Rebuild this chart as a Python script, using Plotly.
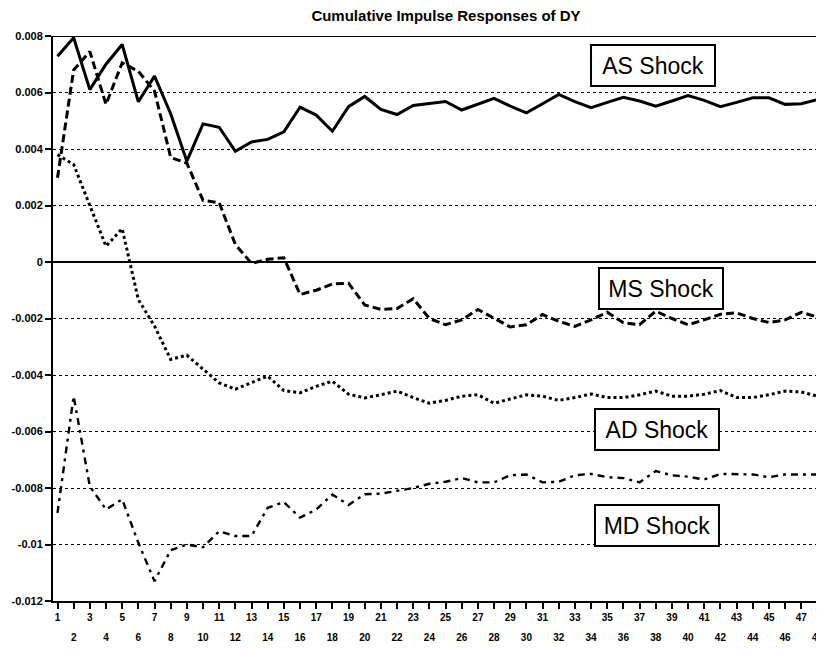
import plotly.graph_objects as go

periods = list(range(1, 49))

as_shock = [0.00728, 0.00794, 0.00610, 0.00700, 0.00770, 0.00567, 0.00658, 0.00525, 0.00357, 0.00489,
            0.00477, 0.00392, 0.00425, 0.00434, 0.00461, 0.00548, 0.00520, 0.00463, 0.00550, 0.00586,
            0.00540, 0.00522, 0.00554, 0.00562, 0.00568, 0.00538, 0.00558, 0.00579, 0.00552, 0.00528,
            0.00560, 0.00593, 0.00568, 0.00546, 0.00565, 0.00583, 0.00570, 0.00552, 0.00570, 0.00589,
            0.00572, 0.00550, 0.00565, 0.00581, 0.00581, 0.00558, 0.00560, 0.00575]

ms_shock = [0.00298, 0.00680, 0.00745, 0.00558, 0.00705, 0.00675, 0.00605, 0.00370, 0.00350, 0.00218,
            0.00210, 0.00062, -0.00005, 0.00010, 0.00015, -0.00115, -0.00100, -0.00078, -0.00075, -0.00152,
            -0.00168, -0.00165, -0.00130, -0.00200, -0.00222, -0.00205, -0.00168, -0.00200, -0.00230, -0.00222,
            -0.00186, -0.00210, -0.00228, -0.00205, -0.00178, -0.00215, -0.00222, -0.00174, -0.00200, -0.00222,
            -0.00205, -0.00185, -0.00180, -0.00200, -0.00214, -0.00205, -0.00178, -0.00195]

ad_shock = [0.00380, 0.00345, 0.00200, 0.00056, 0.00118, -0.00133, -0.00227, -0.00345, -0.00330, -0.00380,
            -0.00428, -0.00450, -0.00428, -0.00404, -0.00455, -0.00463, -0.00440, -0.00422, -0.00468, -0.00481,
            -0.00470, -0.00457, -0.00480, -0.00500, -0.00490, -0.00475, -0.00470, -0.00500, -0.00485, -0.00470,
            -0.00475, -0.00490, -0.00480, -0.00467, -0.00480, -0.00480, -0.00470, -0.00457, -0.00475, -0.00475,
            -0.00468, -0.00455, -0.00480, -0.00480, -0.00470, -0.00457, -0.00460, -0.00475]

md_shock = [-0.00888, -0.00475, -0.00794, -0.00876, -0.00840, -0.00994, -0.01130, -0.01020, -0.01000, -0.01010,
            -0.00953, -0.00970, -0.00970, -0.00870, -0.00850, -0.00905, -0.00876, -0.00823, -0.00860, -0.00822,
            -0.00820, -0.00810, -0.00800, -0.00785, -0.00778, -0.00765, -0.00780, -0.00780, -0.00755, -0.00752,
            -0.00780, -0.00778, -0.00755, -0.00750, -0.00762, -0.00765, -0.00780, -0.00740, -0.00755, -0.00760,
            -0.00770, -0.00750, -0.00752, -0.00752, -0.00762, -0.00752, -0.00752, -0.00752]

y_ticks = [0.008, 0.006, 0.004, 0.002, 0, -0.002, -0.004, -0.006, -0.008, -0.01, -0.012]
y_labels = ["0.008", "0.006", "0.004", "0.002", "0", "-0.002", "-0.004", "-0.006", "-0.008", "-0.01", "-0.012"]

odd_ticks = [p for p in periods if p % 2 == 1]
even_ticks = [p for p in periods if p % 2 == 0]

labels = ["AS Shock", "MS Shock", "AD Shock", "MD Shock"]
label_pos = [(37.8, 0.00696), (38.3, -0.00094), (38.1, -0.00593), (38.1, -0.00933)]

FONT = "Liberation Sans, Arial, sans-serif"

# The page body adds an 8px margin, so the figure is sized 8px smaller each way.
W, H = 816, 642
X_RANGE = [0.722, 48.22]

fig = go.Figure()
fig.add_trace(go.Scatter(x=periods, y=as_shock, mode="lines",
                         line=dict(color="black", width=3, dash="solid")))
fig.add_trace(go.Scatter(x=periods, y=ms_shock, mode="lines",
                         line=dict(color="black", width=3, dash="8px,4px")))
fig.add_trace(go.Scatter(x=periods, y=ad_shock, mode="lines",
                         line=dict(color="black", width=3, dash="3px,3px")))
fig.add_trace(go.Scatter(x=periods, y=md_shock, mode="lines", xaxis="x2",
                         line=dict(color="black", width=2.4, dash="7px,5px,3px,5px")))

for text, (tx, ty) in zip(labels, label_pos):
    fig.add_annotation(x=tx, y=ty, xref="x", yref="y", text=text, showarrow=False,
                       font=dict(family=FONT, size=23, color="black"),
                       bgcolor="white", bordercolor="black", borderwidth=2,
                       width=114, height=31, borderpad=4)

# top border line
fig.add_shape(type="line", xref="paper", yref="y", x0=0, x1=1, y0=0.008, y1=0.008,
              line=dict(color="black", width=2))
# partial right border
fig.add_shape(type="line", xref="paper", yref="y", x0=1, x1=1, y0=-0.0078, y1=-0.012,
              line=dict(color="black", width=1.5))

fig.update_layout(
    width=W, height=H,
    margin=dict(l=45, r=3, t=28, b=49),
    paper_bgcolor="white", plot_bgcolor="white",
    showlegend=False,
    font=dict(family=FONT, color="black"),
    title=dict(text="Cumulative Impulse Responses of DY",
               font=dict(family=FONT, size=15, color="black", weight="bold"),
               x=438 / W, xanchor="center", xref="container",
               y=1 - 8 / H, yanchor="middle", yref="container"),
    xaxis=dict(range=X_RANGE, tickmode="array", tickvals=periods,
               ticktext=[str(p) if p % 2 == 1 else "" for p in periods],
               ticks="outside", ticklen=6, tickwidth=2, tickcolor="black",
               showline=True, linecolor="black", linewidth=2,
               showgrid=False, zeroline=False, automargin=False,
               ticklabeloverflow="allow",
               tickfont=dict(family=FONT, size=10, color="black", weight="bold")),
    xaxis2=dict(range=X_RANGE, overlaying="x", anchor="y", matches="x",
                tickmode="array", tickvals=even_ticks, ticktext=[str(p) for p in even_ticks],
                ticks="", showline=False, showgrid=False, zeroline=False,
                side="bottom", ticklabelstandoff=29, automargin=False,
                ticklabeloverflow="allow",
                tickfont=dict(family=FONT, size=10, color="black", weight="bold")),
    yaxis=dict(range=[-0.012, 0.008], tickmode="array", tickvals=y_ticks, ticktext=y_labels,
               ticks="outside", ticklen=6, tickwidth=2, tickcolor="black",
               showline=True, linecolor="black", linewidth=2,
               showgrid=True, gridcolor="black", gridwidth=1, griddash="dot",
               zeroline=True, zerolinecolor="black", zerolinewidth=2,
               automargin=False,
               tickfont=dict(family=FONT, size=11, color="black", weight="bold")),
)

fig.write_html("out.html")
